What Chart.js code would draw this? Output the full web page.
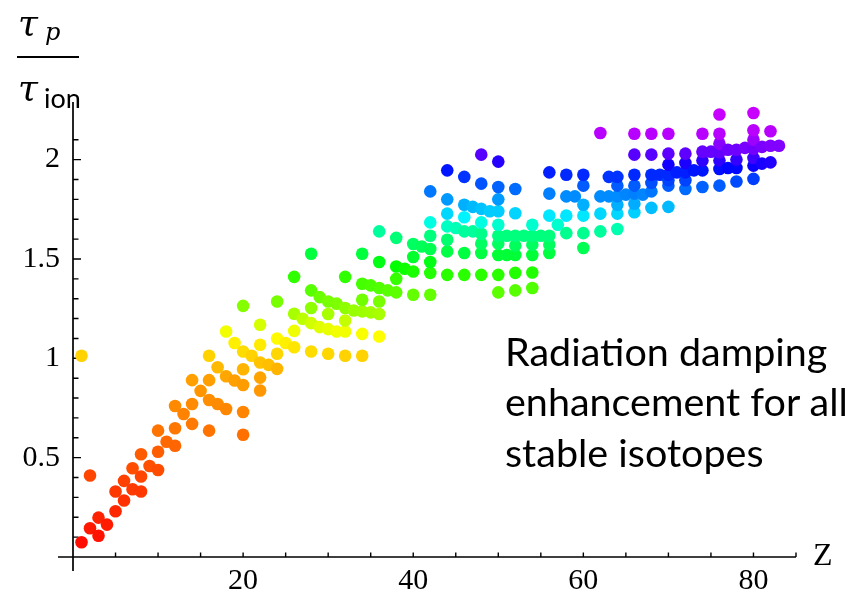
<!DOCTYPE html>
<html>
<head>
<meta charset="utf-8">
<script src="https://cdn.jsdelivr.net/npm/chart.js@4.4.0/dist/chart.umd.min.js"></script>
<style>
  html, body { margin: 0; padding: 0; background: #fff; }
  #wrap { position: relative; width: 859px; height: 598px; }
  #chart, #labels { position: absolute; left: 0; top: 0; }
</style>
</head>
<body>
<div id="wrap">
  <canvas id="chart" width="859" height="598"></canvas>
  <svg id="labels" width="859" height="598">
    <!-- tau_p / tau_ion -->
    <text x="18" y="35" font-family="DejaVu Serif" font-style="italic" font-size="36">τ</text>
    <text x="45" y="40" font-family="DejaVu Serif" font-style="italic" font-size="24">p</text>
    <rect x="17" y="56" width="62" height="2" fill="#000"></rect>
    <text x="18" y="100" font-family="DejaVu Serif" font-style="italic" font-size="36">τ</text>
    <text x="44" y="108" font-family="Lato" font-size="27">ion</text>
    <text x="813" y="565" font-family="Liberation Serif" font-size="32">Z</text>
    <text font-family="Lato" font-size="39.5" fill="#000">
      <tspan x="505" y="366">Radiation damping</tspan>
      <tspan x="505" y="416">enhancement for all</tspan>
      <tspan x="505" y="467">stable isotopes</tspan>
    </text>
  </svg>
</div>
<script>
// === datos: Z de cada elemento y sus isótopos estables ===
const elementZ = [
  1, 2, 3, 4, 5, 6, 7, 8, 9, 10,
  11, 12, 13, 14, 15, 16, 17, 18, 19, 20,
  21, 22, 23, 24, 25, 26, 27, 28, 29, 30,
  31, 32, 33, 34, 35, 36, 37, 38, 39, 40,
  41, 42, 44, 45, 46, 47, 48, 49, 50,
  51, 52, 53, 54, 55, 56, 57, 58, 59, 60,
  62, 63, 64, 65, 66, 67, 68, 69, 70,
  71, 72, 73, 74, 75, 76, 77, 78, 79, 80,
  81, 82, 83
];

const ratioByElement = [
  [0.074, 1.013], [0.145, 0.41], [0.107, 0.198], [0.163], [0.23, 0.33],
  [0.284, 0.383], [0.341, 0.447], [0.33, 0.405, 0.517], [0.458], [0.438, 0.53, 0.636],
  [0.58], [0.56, 0.648, 0.76], [0.72], [0.67, 0.77, 0.89], [0.836],
  [0.636, 0.79, 0.89, 1.013], [0.77, 0.955], [0.745, 0.91, 1.135], [0.888, 1.077],
  [0.615, 0.73, 0.866, 0.945, 1.034, 1.264],
  [1.013], [0.838, 0.903, 0.979, 1.068, 1.169], [0.967], [0.947, 1.023, 1.10, 1.286], [1.077],
  [1.056, 1.138, 1.224, 1.41], [1.199], [1.034, 1.177, 1.253, 1.342, 1.526], [1.157, 1.308],
  [1.023, 1.147, 1.223, 1.286],
  [1.135, 1.275], [1.013, 1.135, 1.19, 1.253, 1.41], [1.241],
  [1.013, 1.123, 1.236, 1.295, 1.375, 1.526], [1.231, 1.367],
  [1.11, 1.223, 1.286, 1.354, 1.485, 1.639], [1.342], [1.332, 1.40, 1.462, 1.606], [1.451],
  [1.32, 1.437, 1.51, 1.575],
  [1.563], [1.32, 1.43, 1.485, 1.55, 1.617, 1.684, 1.84],
  [1.42, 1.538, 1.597, 1.664, 1.728, 1.80, 1.946], [1.656],
  [1.42, 1.53, 1.639, 1.71, 1.773, 1.913], [1.639, 1.762],
  [1.42, 1.53, 1.577, 1.627, 1.684, 1.752, 1.879, 2.025], [1.74],
  [1.332, 1.42, 1.52, 1.577, 1.617, 1.672, 1.74, 1.80, 1.862, 1.99],
  [1.52, 1.617], [1.342, 1.43, 1.52, 1.567, 1.617, 1.73, 1.852], [1.617],
  [1.354, 1.432, 1.52, 1.572, 1.617, 1.672], [1.617],
  [1.53, 1.572, 1.617, 1.718, 1.829, 1.936], [1.672], [1.63, 1.718, 1.815, 1.924], [1.815],
  [1.555, 1.63, 1.718, 1.773, 1.869, 1.924],
  [1.639, 1.728, 1.815, 2.134], [1.815, 1.913], [1.651, 1.728, 1.773, 1.815, 1.869, 1.913],
  [1.824], [1.735, 1.778, 1.829, 1.869, 1.924, 2.025, 2.13], [1.824],
  [1.757, 1.84, 1.883, 1.924, 2.025, 2.13], [1.924],
  [1.762, 1.869, 1.896, 1.924, 1.975, 2.03, 2.13],
  [1.936], [1.852, 1.896, 1.936, 1.983, 2.03], [1.946], [1.862, 1.946, 1.995, 2.04, 2.13],
  [2.04], [1.869, 1.953, 1.995, 2.037, 2.08, 2.13, 2.227], [1.958, 2.05],
  [1.89, 1.958, 2.0, 2.05], [2.059], [1.903, 1.97, 2.008, 2.054, 2.10, 2.148, 2.235],
  [1.98, 2.064], [1.986, 2.07, 2.143], [2.07]
];

const zTickLabels = [20, 40, 60, 80];
const ratioTickLabels = [0.5, 1, 1.5, 2];

// color: tono (hue) según el valor del cociente
const hueStopsRatio = [0, 0.4, 0.65, 0.9, 1.0, 1.13, 1.27, 1.42, 1.53, 1.62, 1.67, 1.73, 1.84, 1.95, 2.03, 2.13, 2.3];
const hueStopsDeg   = [0, 16, 28, 38, 48, 62, 90, 110, 135, 150, 168, 190, 212, 236, 262, 283, 290];

function colorPorRatio(r) {
    let h = hueStopsDeg[hueStopsDeg.length - 1];
    for (let i = 1; i < hueStopsRatio.length; i++) {
        if (r <= hueStopsRatio[i]) {
            const t = (r - hueStopsRatio[i - 1]) / (hueStopsRatio[i] - hueStopsRatio[i - 1]);
            h = hueStopsDeg[i - 1] + t * (hueStopsDeg[i] - hueStopsDeg[i - 1]);
            break;
        }
    }
    return `hsl(${h.toFixed(1)}, 100%, 50%)`;
}

const puntos = elementZ.flatMap((z, i) => ratioByElement[i].map(r => ({ x: z, y: r })));

// ejes estilo Mathematica: líneas que se cruzan y ticks hacia adentro
const ejesPlugin = {
    id: 'ejes',
    beforeDatasetsDraw(chart) {
        const { ctx, chartArea, scales } = chart;
        const xs = scales.x, ys = scales.y;
        ctx.save();
        ctx.strokeStyle = '#000';
        ctx.lineWidth = 1.7;
        ctx.beginPath();
        ctx.moveTo(chartArea.left - 15, chartArea.bottom);
        ctx.lineTo(chartArea.right, chartArea.bottom);
        ctx.moveTo(chartArea.left, chartArea.top);
        ctx.lineTo(chartArea.left, chartArea.bottom + 14);
        ctx.stroke();

        ctx.lineWidth = 1.4;
        ctx.beginPath();
        xs.ticks.forEach(t => {
            if (t.value <= 0 || t.value % 5 !== 0) return;
            const px = xs.getPixelForValue(t.value);
            ctx.moveTo(px, chartArea.bottom);
            ctx.lineTo(px, chartArea.bottom - 4.5);
        });
        ys.ticks.forEach(t => {
            const d = t.value * 10;
            if (t.value <= 0 || Math.abs(d - Math.round(d)) > 1e-6) return;
            const major = Math.round(d) % 5 === 0;
            const py = ys.getPixelForValue(t.value);
            ctx.moveTo(chartArea.left, py);
            ctx.lineTo(chartArea.left + (major ? 8 : 5.5), py);
        });
        ctx.stroke();
        ctx.restore();
    }
};

new Chart(document.getElementById('chart'), {
    type: 'scatter',
    data: {
        datasets: [{
            data: puntos,
            pointRadius: 6.3,
            pointHoverRadius: 6.3,
            borderWidth: 0,
            backgroundColor: c => colorPorRatio(c.raw ? c.raw.y : 0),
            clip: false
        }]
    },
    options: {
        responsive: false,
        animation: false,
        layout: { padding: { top: 102, right: 63, left: 0, bottom: 0 } },
        plugins: { legend: { display: false }, tooltip: { enabled: false } },
        scales: {
            x: {
                type: 'linear',
                min: 0,
                max: 85,
                afterFit: s => { s.height = 41; },
                grid: { display: false, drawTicks: false },
                border: { display: false },
                ticks: {
                    stepSize: 5,
                    autoSkip: false,
                    maxRotation: 0,
                    padding: 6,
                    color: '#000',
                    font: { family: 'Liberation Serif', size: 30 },
                    callback: v => zTickLabels.includes(v) ? String(v) : ''
                }
            },
            y: {
                min: 0,
                max: 2.29,
                afterFit: s => { s.width = 73; },
                grid: { display: false, drawTicks: false },
                border: { display: false },
                ticks: {
                    stepSize: 0.1,
                    autoSkip: false,
                    padding: 13,
                    color: '#000',
                    font: { family: 'Liberation Serif', size: 30 },
                    callback: v => {
                        const t = ratioTickLabels.find(r => Math.abs(r - v) < 1e-6);
                        return t !== undefined ? String(t) : '';
                    }
                }
            }
        }
    },
    plugins: [ejesPlugin]
});
</script>
</body>
</html>
